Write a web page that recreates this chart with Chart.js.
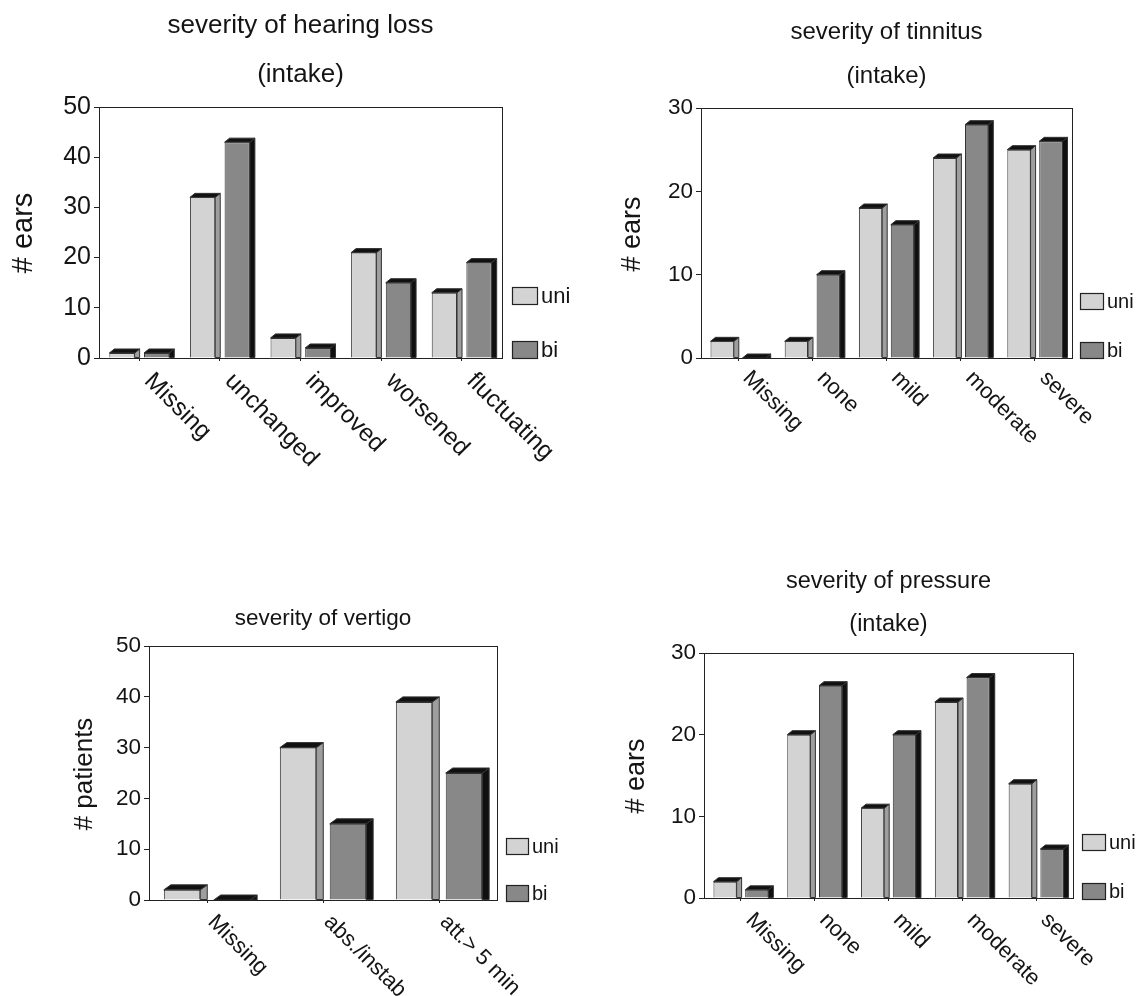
<!DOCTYPE html>
<html>
<head>
<meta charset="utf-8">
<script src="https://cdn.jsdelivr.net/npm/chart.js@4.4.1/dist/chart.umd.min.js"></script>
<style>
  html, body { margin: 0; padding: 0; background: #ffffff; }
  #wrap { position: relative; width: 1136px; height: 996px; overflow: hidden; background: #fff; }
  #wrap canvas { position: absolute; }
</style>
</head>
<body>
<div id="wrap">
  <canvas id="c1" width="620" height="498" style="left:0px;top:0px;width:620px;height:498px"></canvas>
  <canvas id="c2" width="568" height="498" style="left:568px;top:0px;width:568px;height:498px"></canvas>
  <canvas id="c3" width="568" height="498" style="left:0px;top:498px;width:568px;height:498px"></canvas>
  <canvas id="c4" width="568" height="498" style="left:568px;top:498px;width:568px;height:498px"></canvas>
</div>
<script>
// ---------------- DATA ----------------
const seriesLabels = ['uni', 'bi'];

const hearingCategories = ['Missing', 'unchanged', 'improved', 'worsened', 'fluctuating'];
const hearingUni = [1, 32, 4, 21, 13];
const hearingBi  = [1, 43, 2, 15, 19];
const hearingTicks = [0, 10, 20, 30, 40, 50];

const tinnitusCategories = ['Missing', 'none', 'mild', 'moderate', 'severe'];
const tinnitusUni = [2, 2, 18, 24, 25];
const tinnitusBi  = [0, 10, 16, 28, 26];
const tinnitusTicks = [0, 10, 20, 30];

const vertigoCategories = ['Missing', 'abs./instab', 'att.> 5 min'];
const vertigoUni = [2, 30, 39];
const vertigoBi  = [0, 15, 25];
const vertigoTicks = [0, 10, 20, 30, 40, 50];

const pressureCategories = ['Missing', 'none', 'mild', 'moderate', 'severe'];
const pressureUni = [2, 20, 11, 24, 14];
const pressureBi  = [1, 26, 20, 27, 6];
const pressureTicks = [0, 10, 20, 30];

const titleHearing  = ['severity of hearing loss', '(intake)'];
const titleTinnitus = ['severity of tinnitus', '(intake)'];
const titleVertigo  = ['severity of vertigo'];
const titlePressure = ['severity of pressure', '(intake)'];

// ---------------- STYLE ----------------
const FONT = "'Liberation Sans', Arial, Helvetica, sans-serif";
const UNI_FRONT = '#d3d3d3', UNI_SIDE = '#9e9e9e';
const BI_FRONT  = '#888888', BI_SIDE  = '#101010';
const TOP_FACE  = '#111111';
const EDGE = '#333333';

// 3D faces on top of library-drawn bars
const bars3d = {
  id: 'bars3d',
  afterDatasetsDraw(chart, args, opts) {
    const ctx = chart.ctx;
    const dx = opts.dx, dy = opts.dy;
    const sides = [UNI_SIDE, BI_SIDE];
    ctx.save();
    ctx.lineWidth = 1;
    ctx.strokeStyle = EDGE;
    chart.data.datasets.forEach((ds, di) => {
      const meta = chart.getDatasetMeta(di);
      meta.data.forEach(bar => {
        const p = bar.getProps(['x', 'y', 'base', 'width'], true);
        const l = p.x - p.width / 2, r = p.x + p.width / 2;
        // side face
        ctx.beginPath();
        ctx.moveTo(r, p.y); ctx.lineTo(r + dx, p.y - dy);
        ctx.lineTo(r + dx, p.base); ctx.lineTo(r, p.base); ctx.closePath();
        ctx.fillStyle = sides[di]; ctx.fill(); ctx.stroke();
        // top face
        ctx.beginPath();
        ctx.moveTo(l, p.y); ctx.lineTo(l + dx, p.y - dy);
        ctx.lineTo(r + dx, p.y - dy); ctx.lineTo(r, p.y); ctx.closePath();
        ctx.fillStyle = TOP_FACE; ctx.fill(); ctx.stroke();
      });
    });
    ctx.restore();
  }
};

// frame, titles, axis title, rotated category labels, legend
const deco = {
  id: 'deco',
  afterDraw(chart, args, o) {
    const ctx = chart.ctx;
    const a = chart.chartArea;
    const xs = chart.scales.x;
    ctx.save();
    // frame
    ctx.strokeStyle = '#222'; ctx.lineWidth = 1;
    ctx.strokeRect(Math.round(a.left) + 0.5, Math.round(a.top) + 0.5,
                   Math.round(a.right - a.left), Math.round(a.bottom - a.top));
    ctx.fillStyle = '#141414';
    // titles
    ctx.font = o.titleSize + 'px ' + FONT;
    ctx.textAlign = 'center'; ctx.textBaseline = 'alphabetic';
    const cx = (a.left + a.right) / 2;
    o.title.forEach((t, i) => ctx.fillText(t, cx, o.titleY[i]));
    // y axis title
    ctx.save();
    ctx.translate(o.yTitleX, o.yTitleY);
    ctx.rotate(-Math.PI / 2);
    ctx.font = o.yTitleSize + 'px ' + FONT;
    ctx.textAlign = 'center'; ctx.textBaseline = 'middle';
    ctx.fillText(o.yTitle, 0, 0);
    ctx.restore();
    // category labels rotated 45deg, reading downwards to the right
    ctx.font = o.xSize + 'px ' + FONT;
    chart.data.labels.forEach((lab, i) => {
      const px = xs.getPixelForTick(i);
      ctx.save();
      ctx.translate(px + o.xdx, a.bottom + o.xdy);
      ctx.rotate(Math.PI / 4);
      ctx.textAlign = 'left'; ctx.textBaseline = 'alphabetic';
      ctx.fillText(lab, 0, 0);
      ctx.restore();
    });
    // legend
    const fills = [UNI_FRONT, BI_FRONT];
    ctx.font = o.legSize + 'px ' + FONT;
    ctx.textAlign = 'left'; ctx.textBaseline = 'middle';
    chart.data.datasets.forEach((ds, i) => {
      const bx = a.right + o.legGap, by = o.legY[i];
      ctx.fillStyle = fills[i];
      ctx.fillRect(bx, by, o.legW, o.legH);
      ctx.strokeStyle = '#222'; ctx.lineWidth = 1.2;
      ctx.strokeRect(bx + 0.5, by + 0.5, o.legW, o.legH);
      ctx.fillStyle = '#141414';
      ctx.fillText(ds.label, bx + o.legW + 4, by + o.legH / 2 + 1);
    });
    ctx.restore();
  }
};

function makeChart(id, W, H, cfg) {
  const ctx = document.getElementById(id);
  return new Chart(ctx, {
    type: 'bar',
    data: {
      labels: cfg.categories,
      datasets: [
        { label: seriesLabels[0], data: cfg.uni, backgroundColor: UNI_FRONT, borderColor: EDGE, borderWidth: 1,
          categoryPercentage: 0.86, barPercentage: 0.73 },
        { label: seriesLabels[1], data: cfg.bi, backgroundColor: BI_FRONT, borderColor: EDGE, borderWidth: 1,
          categoryPercentage: 0.86, barPercentage: 0.73 }
      ]
    },
    plugins: [bars3d, deco],
    options: {
      responsive: false,
      maintainAspectRatio: false,
      animation: false,
      devicePixelRatio: 1,
      layout: { padding: { left: 0, top: cfg.area.T, right: W - cfg.area.R, bottom: 0 } },
      plugins: {
        legend: { display: false },
        title: { display: false },
        tooltip: { enabled: false },
        bars3d: { dx: cfg.dx, dy: cfg.dy },
        deco: cfg.deco
      },
      scales: {
        x: {
          type: 'category',
          offset: true,
          grid: { display: true, offset: false, drawOnChartArea: false, drawTicks: true, tickLength: 3, color: '#222' },
          border: { display: false },
          ticks: { display: false },
          afterFit: s => { s.height = H - cfg.area.B; }
        },
        y: {
          min: 0,
          max: cfg.ticks[cfg.ticks.length - 1],
          afterBuildTicks: s => { s.ticks = cfg.ticks.map(v => ({ value: v })); },
          grid: { display: true, drawOnChartArea: false, drawTicks: true, tickLength: 5, color: '#222' },
          border: { display: false },
          ticks: { color: '#141414', padding: 3, font: { family: FONT, size: cfg.tickSize } },
          afterFit: s => { s.width = cfg.area.L; }
        }
      }
    }
  });
}

// chart 1: hearing loss (canvas at 0,0)
makeChart('c1', 620, 498, {
  categories: hearingCategories, uni: hearingUni, bi: hearingBi, ticks: hearingTicks,
  area: { L: 99, T: 107, R: 502, B: 358 }, dx: 5, dy: 4, tickSize: 25,
  deco: { title: titleHearing, titleY: [33, 82], titleSize: 26,
          yTitle: '# ears', yTitleX: 24, yTitleY: 233, yTitleSize: 29,
          xSize: 24.5, xdx: 4, xdy: 24,
          legGap: 10, legW: 25, legH: 17, legY: [287, 341], legSize: 22 }
});

// chart 2: tinnitus (canvas at 568,0)
makeChart('c2', 568, 498, {
  categories: tinnitusCategories, uni: tinnitusUni, bi: tinnitusBi, ticks: tinnitusTicks,
  area: { L: 133, T: 108, R: 504, B: 358 }, dx: 5, dy: 4, tickSize: 22.5,
  deco: { title: titleTinnitus, titleY: [39, 83], titleSize: 24,
          yTitle: '# ears', yTitleX: 65, yTitleY: 234, yTitleSize: 27,
          xSize: 22, xdx: 4, xdy: 21,
          legGap: 8, legW: 23, legH: 16, legY: [293, 342], legSize: 20 }
});

// chart 3: vertigo (canvas at 0,498)
makeChart('c3', 568, 498, {
  categories: vertigoCategories, uni: vertigoUni, bi: vertigoBi, ticks: vertigoTicks,
  area: { L: 149, T: 148, R: 497, B: 402 }, dx: 7, dy: 5, tickSize: 22.5,
  deco: { title: titleVertigo, titleY: [127], titleSize: 22.5,
          yTitle: '# patients', yTitleX: 85, yTitleY: 276, yTitleSize: 26,
          xSize: 22, xdx: 0, xdy: 23,
          legGap: 9, legW: 22, legH: 16, legY: [340, 387], legSize: 20 }
});

// chart 4: pressure (canvas at 568,498)
makeChart('c4', 568, 498, {
  categories: pressureCategories, uni: pressureUni, bi: pressureBi, ticks: pressureTicks,
  area: { L: 136, T: 155, R: 505, B: 400 }, dx: 5, dy: 4, tickSize: 22.5,
  deco: { title: titlePressure, titleY: [90, 133], titleSize: 23.5,
          yTitle: '# ears', yTitleX: 69, yTitleY: 278, yTitleSize: 27,
          xSize: 22, xdx: 4, xdy: 23,
          legGap: 9, legW: 23, legH: 16, legY: [336, 385], legSize: 20 }
});
</script>
</body>
</html>
